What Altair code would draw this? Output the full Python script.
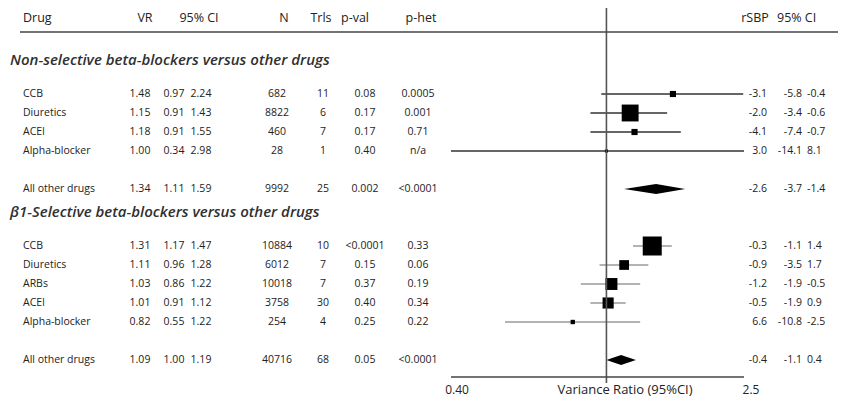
import altair as alt
import pandas as pd

# ---------------- data ----------------
names = ["CCB", "Diuretics", "ACEI", "Alpha-blocker", "All other drugs",
         "CCB", "Diuretics", "ARBs", "ACEI", "Alpha-blocker", "All other drugs"]
rows = [4, 5, 6, 7, 9, 12, 13, 14, 15, 16, 18]
section = ["1", "1", "1", "1", "1", "2", "2", "2", "2", "2", "2"]
summary = [False, False, False, False, True, False, False, False, False, False, True]
vr = [1.48, 1.15, 1.18, 1.00, 1.34, 1.31, 1.11, 1.03, 1.01, 0.82, 1.09]
ci_lo = [0.97, 0.91, 0.91, 0.34, 1.11, 1.17, 0.96, 0.86, 0.91, 0.55, 1.00]
ci_hi = [2.24, 1.43, 1.55, 2.98, 1.59, 1.47, 1.28, 1.22, 1.12, 1.22, 1.19]
n_pat = ["682", "8822", "460", "28", "9992", "10884", "6012", "10018", "3758", "254", "40716"]
trials = ["11", "6", "7", "1", "25", "10", "7", "7", "30", "4", "68"]
pval = ["0.08", "0.17", "0.17", "0.40", "0.002", "<0.0001", "0.15", "0.37", "0.40", "0.25", "0.05"]
phet = ["0.0005", "0.001", "0.71", "n/a", "<0.0001", "0.33", "0.06", "0.19", "0.34", "0.22", "<0.0001"]
rsbp = ["-3.1", "-2.0", "-4.1", "3.0", "-2.6", "-0.3", "-0.9", "-1.2", "-0.5", "6.6", "-0.4"]
rsbp_lo = ["-5.8", "-3.4", "-7.4", "-14.1", "-3.7", "-1.1", "-3.5", "-1.9", "-1.9", "-10.8", "-1.1"]
rsbp_hi = ["-0.4", "-0.6", "-0.7", "8.1", "-1.4", "1.4", "1.7", "-0.5", "0.9", "-2.5", "0.4"]
weight = [4, 30, 4, 1, 0, 38, 10, 15, 13, 2, 0]

titles = ["Non-selective beta-blockers versus other drugs",
          "\u03b21-Selective beta-blockers versus other drugs"]
title_rows = [2.2, 10.2]

AXIS_MIN, AXIS_MAX = 0.4, 2.25

df = pd.DataFrame(dict(name=names, row=rows, section=section, summary=summary,
                       vr=vr, lo=ci_lo, hi=ci_hi, n=n_pat, trials=trials,
                       pval=pval, phet=phet, rsbp=rsbp, rsbp_lo=rsbp_lo,
                       rsbp_hi=rsbp_hi, w=weight))

diam_records = []
for i, s in enumerate(summary):
    if s:
        for key, val in (("lo", ci_lo[i]), ("mid", vr[i]), ("hi", ci_hi[i])):
            diam_records.append({"id": i, "row": rows[i], "x": val, "mid": key == "mid"})
diam = pd.DataFrame(diam_records)

title_df = pd.DataFrame({"title": titles, "row": title_rows})
ref_df = pd.DataFrame({"x": [1.0]})

# ---------------- scales / style ----------------
FONT = "Open Sans"
W, H = 830, 390
xs = alt.Scale(type="log", domain=[AXIS_MIN, AXIS_MAX], range=[443, 736], clamp=True, nice=False)
ys = alt.Scale(domain=[0, 20], range=[10, 390])
TXT = "#222222"
RS = 10.5  # row font size

base = alt.Chart(df)
study = base.transform_filter("!datum.summary")

ci_rules = study.mark_rule(strokeWidth=1.3).encode(
    x=alt.X("lo:Q", scale=xs, axis=None),
    x2="hi:Q",
    y=alt.Y("row:Q", scale=ys, axis=None),
    color=alt.Color("section:N", scale=alt.Scale(domain=["1", "2"], range=["#333333", "#9a9a9a"]), legend=None),
)

squares = study.mark_square(filled=True, color="black", opacity=1).encode(
    x=alt.X("vr:Q", scale=xs, axis=None),
    y=alt.Y("row:Q", scale=ys, axis=None),
    size=alt.Size("w:Q", scale=alt.Scale(domain=[0, 38], range=[0, 361]), legend=None),
)

diamonds = alt.Chart(diam).transform_calculate(
    half="datum.mid ? 0.26 : 0",
    y1="datum.row - datum.half",
    y2="datum.row + datum.half",
).mark_area(color="black", orient="vertical").encode(
    x=alt.X("x:Q", scale=xs, axis=None),
    y=alt.Y("y1:Q", scale=ys, axis=None),
    y2="y2:Q",
    detail="id:N",
)

ref_line = alt.Chart(ref_df).mark_rule(color="#555555", strokeWidth=1.6).encode(
    x=alt.X("x:Q", scale=xs, axis=None), y=alt.value(0), y2=alt.value(375)
)

header_line = alt.Chart(ref_df).mark_rule(color="#444444", strokeWidth=1.4).encode(
    x=alt.value(12), x2=alt.value(830), y=alt.value(24)
)

bottom_line = alt.Chart(ref_df).mark_rule(color="#444444", strokeWidth=1.4).encode(
    x=alt.X(datum=AXIS_MIN, type="quantitative", scale=xs, axis=None),
    x2=alt.X2(datum=AXIS_MAX),
    y=alt.value(369),
)

def col(field, xpos, align="center", size=RS, fmt=None):
    text = alt.Text(field, format=fmt) if fmt else alt.Text(field)
    return base.mark_text(align=align, baseline="middle", font=FONT, fontSize=size, color=TXT).encode(
        x=alt.value(xpos), y=alt.Y("row:Q", scale=ys, axis=None), text=text
    )

cols = [
    col("name:N", 15, "left"),
    col("vr:Q", 132, fmt=".2f"),
    col("lo:Q", 166, fmt=".2f"),
    col("hi:Q", 193, fmt=".2f"),
    col("n:N", 269),
    col("trials:N", 315),
    col("pval:N", 357),
    col("phet:N", 410),
    col("rsbp:N", 759, "right"),
    col("rsbp_lo:N", 794, "right"),
    col("rsbp_hi:N", 799, "left"),
]

title_text = alt.Chart(title_df).mark_text(
    align="left", baseline="middle", font=FONT, fontSize=15, fontStyle="italic",
    fontWeight=600, color="#303030"
).encode(x=alt.value(2), y=alt.Y("row:Q", scale=ys, axis=None), text="title:N")

def label(txt, xpos, ypos, align="center", size=12.5, baseline="middle"):
    return alt.Chart(ref_df).mark_text(
        align=align, baseline=baseline, font=FONT, fontSize=size, color=TXT, text=txt
    ).encode(x=alt.value(xpos), y=alt.value(ypos))

headers = [
    label("Drug", 15, 10, "left"),
    label("VR", 137, 10),
    label("95% CI", 191, 10),
    label("N", 276, 10),
    label("Trls", 313, 10),
    label("p-val", 347, 10),
    label("p-het", 413, 10),
    label("rSBP", 747, 10),
    label("95% CI", 769, 10, "left"),
    label("0.40", 449, 389, size=12, baseline="bottom"),
    label("Variance  Ratio  (95%CI)", 617, 389, size=13, baseline="bottom"),
    label("2.5", 743, 389, size=12, baseline="bottom"),
]

chart = alt.layer(
    ci_rules, squares, diamonds, ref_line, header_line, bottom_line,
    *cols, title_text, *headers
).properties(
    width=W, height=H, padding=0, autosize=alt.AutoSizeParams(type="none")
).configure_view(stroke=None)

chart.save("out.html", embed_options={"renderer": "svg", "actions": False})
